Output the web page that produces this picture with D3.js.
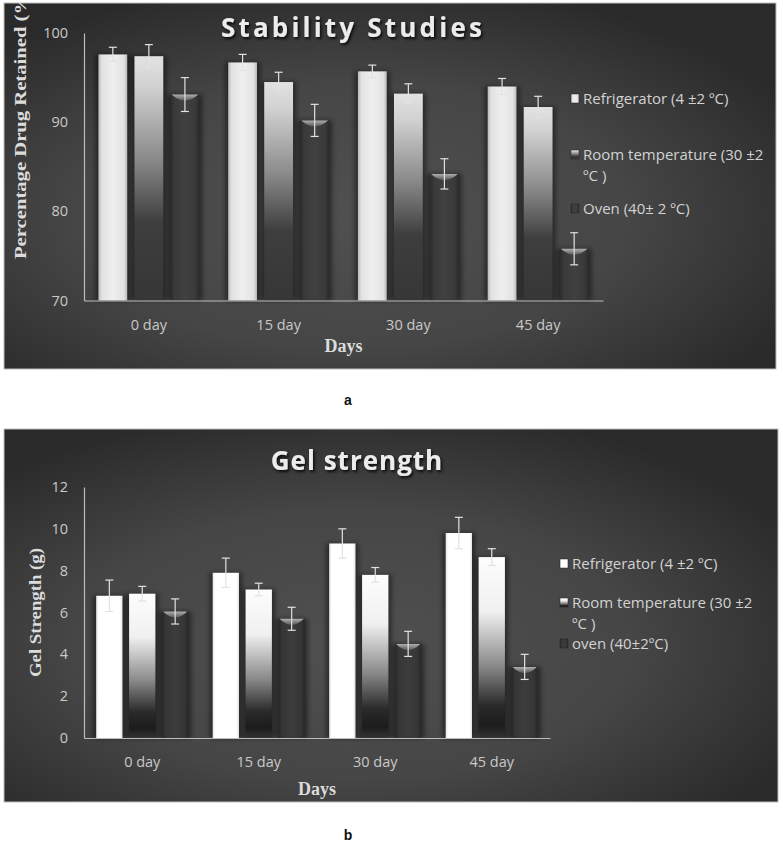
<!DOCTYPE html>
<html>
<head>
<meta charset="utf-8">
<script src="https://cdn.jsdelivr.net/npm/d3@7"></script>
<style>
  body { margin: 0; background: #fff; }
  svg { display: block; }
</style>
</head>
<body>
<svg id="chart" width="783" height="846"></svg>
<script>
// categories
const days = ["0 day", "15 day", "30 day", "45 day"];
const series = ["refrigerator", "room", "oven"];

// (a) stability studies, % drug retained
const stabilityRefrigerator = [97.6, 96.7, 95.7, 94.0];
const stabilityRoom = [97.4, 94.5, 93.2, 91.7];
const stabilityOven = [93.1, 90.2, 84.2, 75.8];
const stabilityRefrigeratorErr = [0.8, 0.9, 0.7, 0.9];
const stabilityRoomErr = [1.3, 1.1, 1.1, 1.2];
const stabilityOvenErr = [1.9, 1.8, 1.7, 1.8];
const stabilityTicks = [70, 80, 90, 100];
const stabilityLegend = [["Refrigerator (4 ±2 ºC)"], ["Room temperature (30 ±2", "ºC )"], ["Oven (40± 2 ºC)"]];

// (b) gel strength, g
const gelRefrigerator = [6.8, 7.9, 9.3, 9.8];
const gelRoom = [6.9, 7.1, 7.8, 8.65];
const gelOven = [6.05, 5.7, 4.5, 3.4];
const gelRefrigeratorErr = [0.75, 0.7, 0.7, 0.75];
const gelRoomErr = [0.35, 0.3, 0.35, 0.4];
const gelOvenErr = [0.6, 0.55, 0.6, 0.6];
const gelTicks = [0, 2, 4, 6, 8, 10, 12];
const gelLegend = [["Refrigerator (4 ±2 ºC)"], ["Room temperature (30 ±2", "ºC )"], ["oven (40±2ºC)"]];

const svg = d3.select("#chart");
const defs = svg.append("defs");

const addGradient = (id, stops, vertical) => {
  const g = defs.append("linearGradient")
    .attr("id", id)
    .attr("x1", 0).attr("y1", 0)
    .attr("x2", vertical ? 0 : 1).attr("y2", vertical ? 1 : 0);
  g.selectAll("stop")
    .data(stops)
    .join("stop")
      .attr("offset", d => d[0])
      .attr("stop-color", d => d[1]);
};

addGradient("a-refrigerator", [[0, "#b9b9b9"], [0.12, "#e2e2e2"], [0.5, "#efefef"], [0.88, "#e2e2e2"], [1, "#b9b9b9"]]);
addGradient("b-refrigerator", [[0, "#e6e6e6"], [0.1, "#ffffff"], [0.9, "#ffffff"], [1, "#e6e6e6"]]);
addGradient("a-room", [[0, "#e2e2e2"], [0.12, "#d2d2d2"], [0.42, "#8a8a8a"], [0.68, "#3e3e3e"], [1, "#363636"]], true);
addGradient("b-room", [[0, "#fdfdfd"], [0.3, "#f0f0f0"], [0.6, "#8a8a8a"], [0.82, "#2a2a2a"], [0.93, "#1c1c1c"], [1, "#333333"]], true);
addGradient("a-oven", [[0, "#2b2b2b"], [0.15, "#3a3a3a"], [0.5, "#404040"], [0.85, "#3a3a3a"], [1, "#2b2b2b"]]);
addGradient("b-oven", [[0, "#282828"], [0.15, "#363636"], [0.5, "#3c3c3c"], [0.85, "#363636"], [1, "#282828"]]);
addGradient("cap", [[0, "#b0b0b0"], [1, "#5a5a5a"]], true);

const bg = defs.append("radialGradient")
  .attr("id", "panel-bg")
  .attr("cx", "45%").attr("cy", "58%").attr("r", "65%");
bg.selectAll("stop")
  .data([[0, "#505050"], [0.55, "#464646"], [1, "#2a2a2a"]])
  .join("stop")
    .attr("offset", d => d[0])
    .attr("stop-color", d => d[1]);

defs.append("filter")
  .attr("id", "blur")
  .attr("x", "-50%").attr("width", "200%")
  .append("feGaussianBlur")
    .attr("stdDeviation", 2.5);

defs.append("filter")
  .attr("id", "title-shadow")
  .append("feDropShadow")
    .attr("dx", 1.5).attr("dy", 2)
    .attr("stdDeviation", 1.5)
    .attr("flood-color", "#000")
    .attr("flood-opacity", 0.85);

const drawPanel = (cfg) => {

  const panel = svg.append("g");

  defs.append("clipPath")
    .attr("id", `clip-${cfg.id}`)
    .append("rect")
      .attr("x", cfg.box[0]).attr("y", cfg.box[1])
      .attr("width", cfg.box[2]).attr("height", cfg.box[3]);

  panel.append("rect")
    .attr("x", cfg.box[0]).attr("y", cfg.box[1])
    .attr("width", cfg.box[2]).attr("height", cfg.box[3])
    .attr("fill", "url(#panel-bg)")
    .attr("stroke", "#bdbdbd");

  const inner = panel.append("g")
    .attr("clip-path", `url(#clip-${cfg.id})`);

  // Scales
  const xScale = d3.scaleBand()
    .domain(days)
    .range([cfg.left, cfg.right]);
  const xSub = d3.scaleBand()
    .domain(series)
    .range([0, xScale.bandwidth()])
    .paddingInner(0.2)
    .paddingOuter(cfg.outer);
  const yScale = d3.scaleLinear()
    .domain(cfg.domain)
    .range([cfg.bottom, cfg.top]);

  const rows = days.flatMap((day, i) => series.map((key, j) => ({
    day, key, value: cfg.values[j][i], err: cfg.errors[j][i]
  })));

  const groups = inner.selectAll(".bar")
    .data(rows)
    .join("g")
      .attr("class", "bar")
      .attr("transform", d => `translate(${xScale(d.day) + xSub(d.key)},0)`);

  const w = xSub.bandwidth();

  // soft shadow behind each bar
  groups.append("rect")
    .attr("x", -3)
    .attr("y", d => yScale(d.value))
    .attr("width", w + 6)
    .attr("height", d => cfg.bottom - yScale(d.value))
    .attr("fill", "#000")
    .attr("opacity", 0.45)
    .attr("filter", "url(#blur)");

  groups.append("rect")
    .attr("y", d => yScale(d.value))
    .attr("width", w)
    .attr("height", d => cfg.bottom - yScale(d.value))
    .attr("fill", d => `url(#${cfg.id}-${d.key})`);

  // cylinder top on the oven bars
  groups.filter(d => d.key === "oven")
    .append("path")
      .attr("d", d => {
        const t = yScale(d.value);
        return `M1,${t} L${w - 1},${t} Q${w / 2},${t + 12} 1,${t} Z`;
      })
      .attr("fill", "url(#cap)");

  // error bars
  const errColor = "#e2e2e2";
  groups.append("line")
    .attr("x1", w / 2).attr("x2", w / 2)
    .attr("y1", d => yScale(d.value - d.err))
    .attr("y2", d => yScale(d.value + d.err))
    .attr("stroke", errColor)
    .attr("stroke-width", 1.2);
  [-1, 1].forEach(s => {
    groups.append("line")
      .attr("x1", w / 2 - 4).attr("x2", w / 2 + 4)
      .attr("y1", d => yScale(d.value + s * d.err))
      .attr("y2", d => yScale(d.value + s * d.err))
      .attr("stroke", errColor)
      .attr("stroke-width", 1.2);
  });

  // Axes
  const yAxis = panel.append("g")
    .attr("transform", `translate(${cfg.left},0)`)
    .call(d3.axisLeft(yScale).tickValues(cfg.ticks).tickSize(0).tickPadding(16));
  const xAxis = panel.append("g")
    .attr("transform", `translate(0,${cfg.bottom})`)
    .call(d3.axisBottom(xScale).tickSize(0).tickPadding(19));

  [yAxis, xAxis].forEach(a => {
    a.select(".domain").attr("stroke", "#bcbcbc").attr("stroke-width", 1.2);
    a.selectAll("text")
      .attr("fill", "#c9c9c9")
      .style("font-family", "'Open Sans', sans-serif")
      .style("font-size", "14.5px");
  });

  // Titles
  panel.append("text")
    .attr("x", cfg.titleX)
    .attr("y", cfg.titleY)
    .attr("text-anchor", "middle")
    .attr("fill", "#ececec")
    .attr("filter", "url(#title-shadow)")
    .style("font-family", "'Open Sans', sans-serif")
    .style("font-weight", "bold")
    .style("font-size", "26px")
    .style("letter-spacing", cfg.titleSpacing)
    .text(cfg.title);

  inner.append("text")
    .attr("transform", `translate(${cfg.yTitleX},${cfg.yTitleY}) rotate(-90)`)
    .attr("textLength", cfg.yTitleLength)
    .attr("lengthAdjust", "spacingAndGlyphs")
    .attr("fill", "#dcdcdc")
    .style("font-family", "'Liberation Serif', 'Times New Roman', serif")
    .style("font-weight", "bold")
    .style("font-size", "16px")
    .text(cfg.yTitle);

  panel.append("text")
    .attr("x", (cfg.left + cfg.right) / 2)
    .attr("y", cfg.xTitleY)
    .attr("text-anchor", "middle")
    .attr("fill", "#dcdcdc")
    .style("font-family", "'Liberation Serif', 'Times New Roman', serif")
    .style("font-weight", "bold")
    .style("font-size", "18px")
    .text("Days");

  // Legend
  const legend = panel.selectAll(".legend-item")
    .data(series)
    .join("g")
      .attr("class", "legend-item")
      .attr("transform", (d, i) => `translate(${cfg.legendX},${cfg.legendY[i]})`);

  legend.append("rect")
    .attr("x", -12).attr("y", -5)
    .attr("width", 8).attr("height", 9)
    .attr("fill", d => `url(#${cfg.id}-${d})`)
    .attr("stroke", "#222")
    .attr("stroke-width", 0.5);

  legend.append("text")
    .attr("fill", "#d2d2d2")
    .style("font-family", "'Open Sans', sans-serif")
    .style("font-size", "15px")
    .selectAll("tspan")
    .data((d, i) => cfg.legend[i])
    .join("tspan")
      .attr("x", 0)
      .attr("y", (d, k) => 5 + k * 21)
      .text(d => d);

  // panel letter
  svg.append("text")
    .attr("x", cfg.letterX)
    .attr("y", cfg.letterY)
    .attr("text-anchor", "middle")
    .attr("fill", "#111")
    .style("font-family", "'Liberation Sans', Arial, sans-serif")
    .style("font-weight", "bold")
    .style("font-size", "14px")
    .text(cfg.letter);

};

drawPanel({
  id: "a",
  box: [4, 3, 772, 366],
  left: 84, right: 603, top: 33, bottom: 300.5,
  outer: 0.4,
  domain: [70, 100],
  ticks: stabilityTicks,
  values: [stabilityRefrigerator, stabilityRoom, stabilityOven],
  errors: [stabilityRefrigeratorErr, stabilityRoomErr, stabilityOvenErr],
  title: "Stability Studies",
  titleX: 353, titleY: 37, titleSpacing: "3.2px",
  yTitle: "Percentage Drug Retained (%)",
  yTitleX: 26, yTitleY: 259, yTitleLength: 272,
  xTitleY: 352,
  legend: stabilityLegend,
  legendX: 583, legendY: [99, 155, 209],
  letter: "a", letterX: 348, letterY: 405
});

drawPanel({
  id: "b",
  box: [4, 429, 774, 373],
  left: 84, right: 550, top: 487, bottom: 738,
  outer: 0.37,
  domain: [0, 12],
  ticks: gelTicks,
  values: [gelRefrigerator, gelRoom, gelOven],
  errors: [gelRefrigeratorErr, gelRoomErr, gelOvenErr],
  title: "Gel strength",
  titleX: 357, titleY: 470, titleSpacing: "1px",
  yTitle: "Gel Strength (g)",
  yTitleX: 41, yTitleY: 677, yTitleLength: 129,
  xTitleY: 795,
  legend: gelLegend,
  legendX: 572, legendY: [564, 603, 644],
  letter: "b", letterX: 348, letterY: 840
});
</script>
</body>
</html>
